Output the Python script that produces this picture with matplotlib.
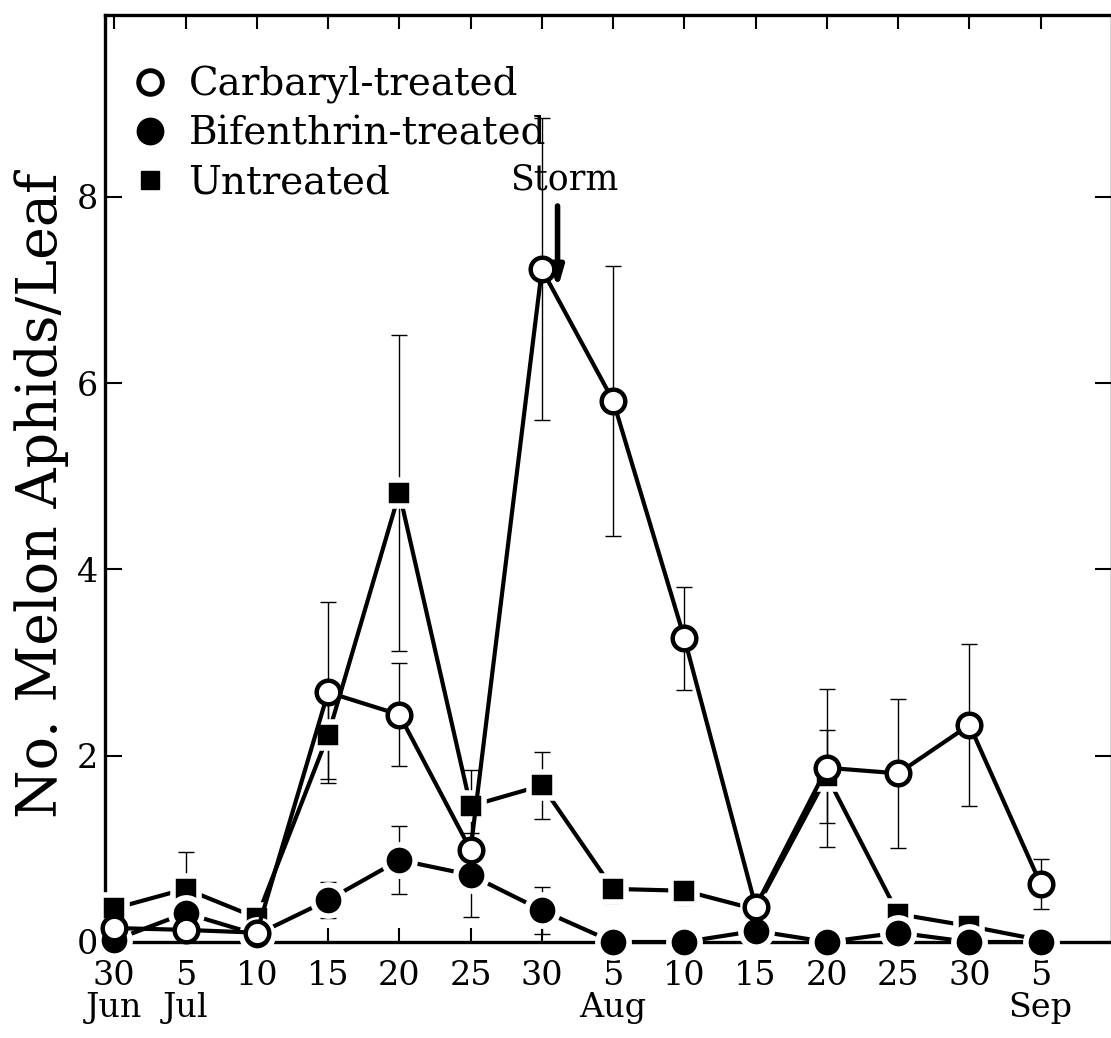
import matplotlib
matplotlib.use("Agg")
import matplotlib.pyplot as plt
from matplotlib.lines import Line2D

# sampling dates (5-day intervals)
day_labels = ['30', '5', '10', '15', '20', '25', '30', '5', '10', '15', '20', '25', '30', '5']
month_labels = ['Jun', 'Jul', '', '', '', '', '', 'Aug', '', '', '', '', '', 'Sep']

# mean aphids per leaf and standard errors
carbaryl = [0.15, 0.13, 0.10, 2.68, 2.44, 0.99, 7.22, 5.81, 3.26, 0.38, 1.87, 1.81, 2.33, 0.62]
carbaryl_se = [0.05, 0.05, 0.0, 0.97, 0.55, 0.1, 1.62, 1.45, 0.55, 0.0, 0.85, 0.80, 0.87, 0.27]

bifenthrin = [0.02, 0.31, 0.08, 0.45, 0.88, 0.72, 0.34, 0.0, 0.0, 0.12, 0.0, 0.10, 0.0, 0.0]
bifenthrin_se = [0.0, 0.0, 0.0, 0.19, 0.36, 0.45, 0.25, 0.0, 0.0, 0.0, 0.0, 0.0, 0.0, 0.0]

untreated = [0.36, 0.57, 0.26, 2.22, 4.82, 1.46, 1.68, 0.57, 0.55, 0.35, 1.78, 0.30, 0.17, 0.02]
untreated_se = [0.12, 0.40, 0.10, 0.47, 1.70, 0.39, 0.36, 0.15, 0.15, 0.0, 0.50, 0.0, 0.15, 0.0]

x = list(range(len(day_labels)))

plt.rcParams['font.family'] = ['DejaVu Serif']

fig = plt.figure(figsize=(11.11, 10.38), dpi=100)
ax = fig.add_axes([105 / 1111, 96 / 1038, 1007 / 1111, 927 / 1038])

# error bars first so markers sit on top
for vals, se in [(carbaryl, carbaryl_se), (bifenthrin, bifenthrin_se), (untreated, untreated_se)]:
    ax.errorbar(x, vals, yerr=se, fmt='none', ecolor='black', elinewidth=1.0,
                capsize=6, capthick=1.0, zorder=2)

ax.plot(x, untreated, color='black', lw=3.0, marker='s', ms=18.5, mfc='black',
        mec='white', mew=4, zorder=3, clip_on=False)
ax.plot(x, bifenthrin, color='black', lw=3.0, marker='o', ms=22.5, mfc='black',
        mec='white', mew=4, zorder=4, clip_on=False)
ax.plot(x, carbaryl, color='black', lw=3.0, marker='o', ms=17, mfc='white',
        mec='black', mew=3.2, zorder=5, clip_on=False)

# storm marker
ax.text(6.32, 8.08, 'Storm', ha='center', va='baseline', fontsize=25)
ax.annotate('', xy=(6.22, 6.98), xytext=(6.22, 7.93),
            arrowprops=dict(arrowstyle='-|>,head_length=1.2,head_width=0.35',
                            color='black', lw=4))

handles = [
    Line2D([], [], ls='none', marker='o', ms=17, mfc='white', mec='black', mew=3.5),
    Line2D([], [], ls='none', marker='o', ms=19, mfc='black', mec='black'),
    Line2D([], [], ls='none', marker='s', ms=13, mfc='black', mec='black'),
]
ax.legend(handles, ['Carbaryl-treated', 'Bifenthrin-treated', 'Untreated'],
          loc='upper left', bbox_to_anchor=(0.027, 0.945), frameon=False,
          fontsize=28, handlelength=0.9, handletextpad=0.55, labelspacing=0.3,
          borderpad=0, borderaxespad=0)

ax.set_xlim(-0.13, 14.0)
ax.set_ylim(0, 9.95)
ax.set_xticks(x)
ax.set_xticklabels([d + '\n' + m for d, m in zip(day_labels, month_labels)],
                   fontsize=24, linespacing=1.0)
ax.set_yticks([0, 2, 4, 6, 8])
ax.set_yticklabels(['0', '2', '4', '6', '8'], fontsize=24)
ax.tick_params(axis='both', direction='in', top=True, right=True, width=1.5)
ax.tick_params(axis='y', length=12, pad=5)
ax.tick_params(axis='x', length=10, pad=13)
for s in ax.spines.values():
    s.set_linewidth(2.4)

ax.set_ylabel('No. Melon Aphids/Leaf', fontsize=40)
ax.yaxis.set_label_coords(-0.036, 0.482)

fig.savefig('out.png', dpi=100)
